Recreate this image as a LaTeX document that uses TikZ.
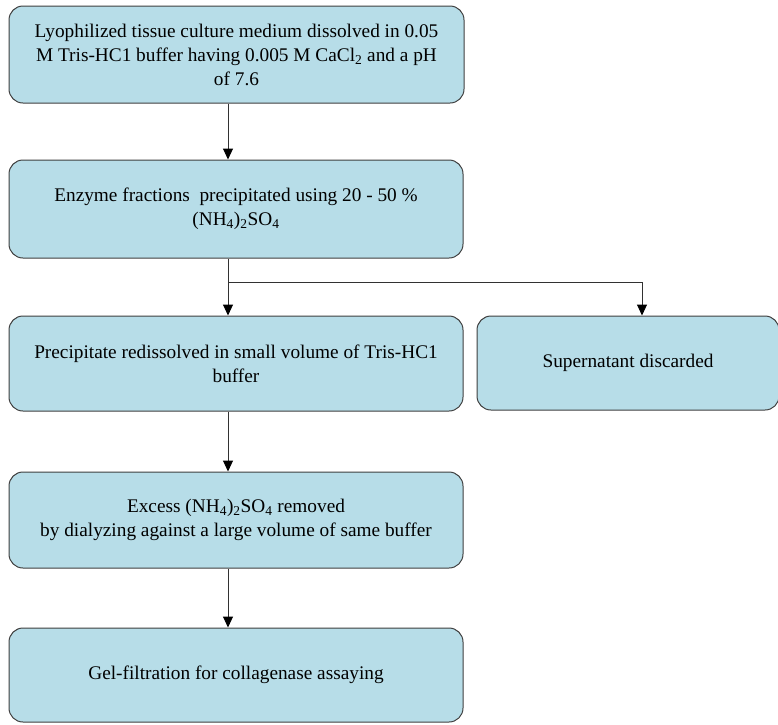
\documentclass[tikz,border=0pt]{standalone}
\usepackage{fontspec}
\setmainfont{Liberation Serif}
\usetikzlibrary{arrows.meta}
\definecolor{boxfill}{HTML}{B7DDE8}
\definecolor{boxline}{HTML}{3F3F3F}
\begin{document}
\begin{tikzpicture}[x=1pt,y=-1pt,
  flowbox/.style={draw=boxline,line width=1pt,fill=boxfill,rounded corners=14pt,
    align=center,inner sep=0pt,font=\fontsize{19.3}{24}\selectfont},
  conn/.style={draw=boxline!80!black,line width=1pt,-{Triangle[width=10pt,length=11pt,color=black]}}]
\useasboundingbox (0,0) rectangle (778,724);
\node[flowbox,minimum width=455pt,minimum height=97pt] (b1) at (236.5,54.5)
  {Lyophilized tissue culture medium dissolved in 0.05\\
   M Tris-HC1 buffer having 0.005 M CaCl\textsubscript{2} and a pH\\
   of 7.6};
\node[flowbox,minimum width=454pt,minimum height=98pt] (b2) at (236,209)
  {Enzyme fractions~ precipitated using 20 - 50 \%\\
   (NH\textsubscript{4})\textsubscript{2}SO\textsubscript{4}};
\node[flowbox,minimum width=454pt,minimum height=95pt] (b3) at (236,363.5)
  {Precipitate redissolved in small volume of Tris-HC1\\ buffer};
\node[flowbox,minimum width=302pt,minimum height=94pt] (b4) at (628,363)
  {\raisebox{-3pt}{Supernatant discarded}};
\node[flowbox,minimum width=454pt,minimum height=96pt] (b5) at (236,520)
  {Excess (NH\textsubscript{4})\textsubscript{2}SO\textsubscript{4} removed\\
   by dialyzing against a large volume of same buffer};
\node[flowbox,minimum width=454pt,minimum height=94pt] (b6) at (236,675)
  {\raisebox{-3pt}{Gel-filtration for collagenase assaying}};
\coordinate (split) at (228,282);
\draw[conn] (b1.south -| split) -- (b2.north -| split);
\draw[conn] (b2.south -| split) -- (b3.north -| split);
\draw[conn] (split) -| ([xshift=14pt]b4.north);
\draw[conn] (b3.south -| split) -- (b5.north -| split);
\draw[conn] (b5.south -| split) -- (b6.north -| split);
\end{tikzpicture}
\end{document}
